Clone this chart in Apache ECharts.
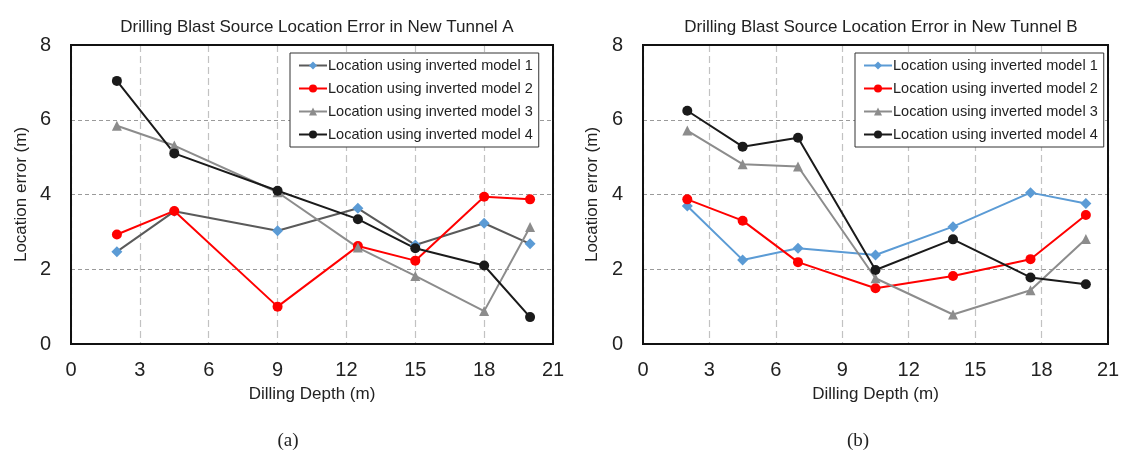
<!DOCTYPE html>
<html>
<head>
<meta charset="utf-8">
<script src="https://cdn.jsdelivr.net/npm/echarts@6/dist/echarts.min.js"></script>
<style>
  html, body { margin: 0; padding: 0; background: #fff; }
  #chart { width: 1137px; height: 462px; }
</style>
</head>
<body>
<div id="chart"></div>
<script>
// Drilling depth (m) of each blast, per tunnel
const depthA = [2, 4.5, 9, 12.5, 15, 18, 20];
const depthB = [2, 4.5, 7, 10.5, 14, 17.5, 20];

// Location error (m) for each inverted model, Tunnel A
const tunnelA_model1 = [2.47, 3.55, 3.03, 3.63, 2.65, 3.23, 2.68];
const tunnelA_model2 = [2.93, 3.56, 1.00, 2.62, 2.23, 3.94, 3.87];
const tunnelA_model3 = [5.84, 5.31, 4.06, 2.58, 1.82, 0.88, 3.13];
const tunnelA_model4 = [7.04, 5.10, 4.10, 3.34, 2.56, 2.10, 0.72];

// Location error (m) for each inverted model, Tunnel B
const tunnelB_model1 = [3.69, 2.25, 2.56, 2.38, 3.14, 4.05, 3.76];
const tunnelB_model2 = [3.87, 3.30, 2.19, 1.49, 1.82, 2.27, 3.45];
const tunnelB_model3 = [5.71, 4.81, 4.75, 1.76, 0.79, 1.44, 2.81];
const tunnelB_model4 = [6.24, 5.28, 5.52, 1.98, 2.80, 1.78, 1.60];

const xTicks = [0, 3, 6, 9, 12, 15, 18, 21];
const yTicks = [0, 2, 4, 6, 8];

const titles = [
  'Drilling Blast Source Location Error in New Tunnel A',
  'Drilling Blast Source Location Error in New Tunnel B'
];
const panelLabels = ['(a)', '(b)'];
const legendText = 'Location using inverted model ';
const xName = 'Dilling Depth (m)';
const yName = 'Location error (m)';

const FONT = '"Liberation Sans", Arial, sans-serif';
const BLUE = '#5b9bd5', RED = '#ff0000', GREY = '#8c8c8c', BLACK = '#1a1a1a', DARKGREY = '#5a5a5a';

function pairs(xs, ys) { return xs.map((x, i) => [x, ys[i]]); }

function mkSeries(name, idx, xs, ys, lineColor, markColor, symbol, size) {
  return {
    name: name, type: 'line', xAxisIndex: idx, yAxisIndex: idx,
    data: pairs(xs, ys),
    symbol: symbol, symbolSize: size, showSymbol: true,
    lineStyle: { color: lineColor, width: 2 },
    itemStyle: { color: markColor },
    emphasis: { disabled: true },
    animation: false, z: 3
  };
}

const grids = [
  { left: 71, right: 584, top: 45, bottom: 118 },
  { left: 643, right: 29, top: 45, bottom: 118 }
];

function xAxisFor(i) {
  return {
    type: 'value', gridIndex: i, min: xTicks[0], max: xTicks[xTicks.length - 1], interval: 3,
    name: xName, nameLocation: 'middle', nameGap: 42,
    nameTextStyle: { fontFamily: FONT, fontSize: 17, color: '#222' },
    axisLine: { show: false }, axisTick: { show: false },
    axisLabel: { fontFamily: FONT, fontSize: 20, color: '#222', margin: 16 },
    splitLine: { show: true, lineStyle: { color: '#c2c2c2', type: [7, 4], width: 1.2 } }
  };
}
function yAxisFor(i) {
  return {
    type: 'value', gridIndex: i, min: yTicks[0], max: yTicks[yTicks.length - 1], interval: 2,
    name: yName, nameLocation: 'middle', nameGap: i === 0 ? 41 : 42,
    nameTextStyle: { fontFamily: FONT, fontSize: 17, color: '#222' },
    axisLine: { show: false }, axisTick: { show: false },
    axisLabel: { fontFamily: FONT, fontSize: 20, color: '#222', margin: 20 },
    splitLine: { show: true, lineStyle: { color: '#9a9a9a', type: [4, 3], width: 1 } }
  };
}

function legendFor(names, left) {
  return {
    data: names, left: left, top: 53, orient: 'vertical',
    backgroundColor: '#fff', borderColor: '#333', borderWidth: 1,
    padding: [5, 6, 5, 8], itemGap: 8, itemWidth: 28, itemHeight: 10,
    textStyle: { fontFamily: FONT, fontSize: 14.5, lineHeight: 14, color: '#222', padding: [0, 0, 0, -4] },
    formatter: (n) => legendText + n.slice(1),
    selectedMode: false, z: 10
  };
}

const option = {
  backgroundColor: '#fff',
  animation: false,
  title: [
    { text: titles[0], left: 312, textAlign: 'center', top: 14,
      textStyle: { fontFamily: FONT, fontSize: 17, fontWeight: 'normal', color: '#222' } },
    { text: titles[1], left: 876, textAlign: 'center', top: 14,
      textStyle: { fontFamily: FONT, fontSize: 17, fontWeight: 'normal', color: '#222' } }
  ],
  grid: grids.map(g => Object.assign({ show: true, borderColor: '#111', borderWidth: 2, backgroundColor: 'transparent', z: 4 }, g)),
  xAxis: [xAxisFor(0), xAxisFor(1)],
  yAxis: [yAxisFor(0), yAxisFor(1)],
  legend: [
    legendFor(['A1', 'A2', 'A3', 'A4'], 290),
    legendFor(['B1', 'B2', 'B3', 'B4'], 855)
  ],
  series: [
    mkSeries('A1', 0, depthA, tunnelA_model1, DARKGREY, BLUE, 'diamond', 11),
    mkSeries('A2', 0, depthA, tunnelA_model2, RED, RED, 'circle', 10),
    mkSeries('A3', 0, depthA, tunnelA_model3, GREY, GREY, 'triangle', 10),
    mkSeries('A4', 0, depthA, tunnelA_model4, BLACK, BLACK, 'circle', 10),
    mkSeries('B1', 1, depthB, tunnelB_model1, BLUE, BLUE, 'diamond', 11),
    mkSeries('B2', 1, depthB, tunnelB_model2, RED, RED, 'circle', 10),
    mkSeries('B3', 1, depthB, tunnelB_model3, GREY, GREY, 'triangle', 10),
    mkSeries('B4', 1, depthB, tunnelB_model4, BLACK, BLACK, 'circle', 10)
  ],
  graphic: [
    { type: 'text', x: 288, y: 441, style: { text: panelLabels[0], font: '19px "Liberation Serif", "Times New Roman", serif', fill: '#222', align: 'center', verticalAlign: 'middle' } },
    { type: 'text', x: 858, y: 441, style: { text: panelLabels[1], font: '19px "Liberation Serif", "Times New Roman", serif', fill: '#222', align: 'center', verticalAlign: 'middle' } }
  ]
};

const chart = echarts.init(document.getElementById('chart'), null, { renderer: 'canvas' });
chart.setOption(option);
</script>
</body>
</html>
